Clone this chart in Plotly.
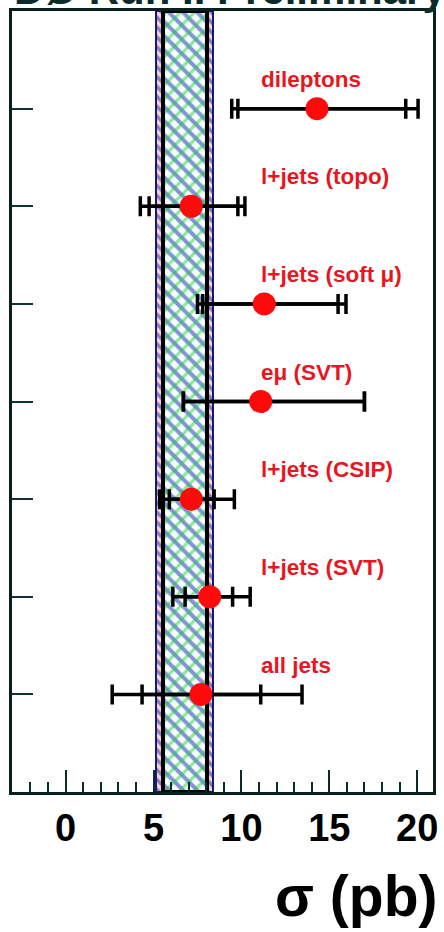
import plotly.graph_objects as go

# Measurements, listed top to bottom
channels = ["dileptons", "l+jets (topo)", "l+jets (soft \u03bc)", "e\u03bc (SVT)",
            "l+jets (CSIP)", "l+jets (SVT)", "all jets"]
sigma = [14.3, 7.15, 11.3, 11.1, 7.15, 8.2, 7.7]
stat_lo = [9.8, 4.75, 7.8, 6.7, 5.9, 6.8, 4.35]
stat_hi = [19.35, 9.8, 15.5, 17.0, 8.45, 9.5, 11.1]
tot_lo = [9.45, 4.25, 7.5, 6.7, 5.35, 6.1, 2.65]
tot_hi = [20.05, 10.2, 15.95, 17.0, 9.6, 10.5, 13.45]

# Combined band: inner and outer limits (pb)
band_inner = [5.55, 8.05]
band_outer = [5.15, 8.4]

x_ticks = [0, 5, 10, 15, 20]

n = len(channels)
rows = [n - i for i in range(n)]

fig = go.Figure()

# Outer band strip (base y axis spans the full height)
fig.add_trace(go.Bar(
    orientation="h", y=[0.5], width=[1],
    base=[band_outer[0]], x=[band_outer[1] - band_outer[0]],
    marker=dict(color="#ffd0d0",
                line=dict(color="#101c6e", width=2),
                pattern=dict(shape="\\", fgcolor="#1626b0", bgcolor="#ffd0d4",
                             size=7, solidity=0.5)),
    yaxis="y", xaxis="x", hoverinfo="skip", showlegend=False,
))
# Inner band: blue diagonal lines
fig.add_trace(go.Bar(
    orientation="h", y=[0.5], width=[1],
    base=[band_inner[0]], x=[band_inner[1] - band_inner[0]],
    marker=dict(color="white",
                line=dict(color="black", width=4),
                pattern=dict(shape="\\", fgcolor="#1424c4", bgcolor="#f6fff8",
                             size=10, solidity=0.4)),
    yaxis="y", xaxis="x", hoverinfo="skip", showlegend=False,
))
# Inner band: green diagonal lines in the other direction
fig.add_trace(go.Bar(
    orientation="h", y=[0.5], width=[1],
    base=[band_inner[0]], x=[band_inner[1] - band_inner[0]],
    marker=dict(color="rgba(0,0,0,0)",
                line=dict(color="black", width=4),
                pattern=dict(shape="/", fgcolor="#1ed23c",
                             size=10, solidity=0.3)),
    yaxis="y", xaxis="x", hoverinfo="skip", showlegend=False,
))

# Total uncertainty
fig.add_trace(go.Scatter(
    x=sigma, y=rows, yaxis="y2", mode="markers",
    marker=dict(size=2, opacity=0),
    error_x=dict(type="data", symmetric=False,
                 array=[h - c for h, c in zip(tot_hi, sigma)],
                 arrayminus=[c - l for c, l in zip(sigma, tot_lo)],
                 color="black", thickness=3.5, width=10),
    hoverinfo="skip", showlegend=False,
))
# Statistical uncertainty and central values
fig.add_trace(go.Scatter(
    x=sigma, y=rows, yaxis="y2", mode="markers",
    marker=dict(size=23, color="#ff0a0a", line=dict(width=0)),
    error_x=dict(type="data", symmetric=False,
                 array=[h - c for h, c in zip(stat_hi, sigma)],
                 arrayminus=[c - l for c, l in zip(sigma, stat_lo)],
                 color="black", thickness=3.5, width=10),
    showlegend=False,
))

# Channel labels
for name, r in zip(channels, rows):
    fig.add_annotation(
        x=11.0, y=r + 0.3, xref="x", yref="y2", text=name,
        xanchor="left", yanchor="middle", showarrow=False,
        font=dict(family="Liberation Sans, Arial", size=22.5, color="#e8161e",
                  weight="bold"),
    )

# Header text partly above the frame
fig.add_annotation(
    x=0.0, y=1.0, xref="paper", yref="paper",
    text="D\u00d8 Run II Preliminary", xanchor="left", yanchor="bottom",
    showarrow=False, yshift=-4,
    font=dict(family="Liberation Sans, Arial", size=42, color="#0b2a2a",
              weight="bold"),
)

# Axis title
fig.add_annotation(
    x=1.0, y=-0.094, xref="paper", yref="paper",
    text="\u03c3 (pb)", xanchor="right", yanchor="top", showarrow=False,
    xshift=6, yshift=3,
    font=dict(family="Liberation Sans, Arial", size=57, color="black",
              weight="bold"),
)

fig.update_layout(
    width=444, height=932,
    margin=dict(l=12, r=6, t=11, b=140),
    paper_bgcolor="white", plot_bgcolor="white",
    barmode="overlay", bargap=0,
    xaxis=dict(
        range=[-3.05, 20.9], tickvals=x_ticks, ticks="inside", ticklen=22,
        tickwidth=2, tickcolor="#0b2a2a",
        minor=dict(dtick=1, ticks="inside", ticklen=10, tickwidth=2,
                   tickcolor="#0b2a2a", showgrid=False),
        showgrid=False, zeroline=False,
        showline=True, linecolor="#0b1f1f", linewidth=3, mirror=True,
        tickfont=dict(family="Liberation Sans, Arial", size=38, color="black",
                      weight="bold"),
        ticklabelstandoff=0,
    ),
    yaxis=dict(
        range=[0, 1], showticklabels=False, ticks="", showgrid=False,
        zeroline=False, showline=True, linecolor="#0b1f1f", linewidth=3,
        mirror=True,
    ),
    yaxis2=dict(
        range=[0, 8], overlaying="y", side="left",
        tickvals=rows, showticklabels=False, ticks="inside", ticklen=21,
        tickwidth=2, tickcolor="#0d3535", showgrid=False, zeroline=False,
    ),
)

fig.write_html("out.html")
